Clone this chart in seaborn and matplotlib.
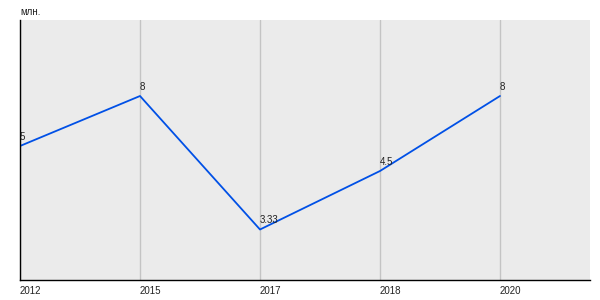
import matplotlib
matplotlib.use("Agg")
import matplotlib.pyplot as plt
import seaborn as sns
import pandas as pd

years = ["2012", "2015", "2017", "2018", "2020"]
values = [5, 6, 3.33, 4.5, 6]
labels = ["5", "8", "3.33", "4.5", "8"]
unit = "млн."

sns.set_theme(style="white")
plt.rcParams['font.family'] = ['Liberation Sans', 'DejaVu Sans']

df = pd.DataFrame({"year": years, "value": values})

fig = plt.figure(figsize=(6, 3), dpi=100)
ax = fig.add_axes([20/600, 20/300, 570/600, 260/300])
ax.set_facecolor("#EBEBEB")

sns.lineplot(data=df, x="year", y="value", ax=ax, color="#0050E6", linewidth=1.3)

ax.set_xlim(0, 4.75)
ax.set_ylim(2.32, 7.52)
ax.set_xlabel("")
ax.set_ylabel("")
ax.set_yticks([])
ax.set_xticks(range(len(years)))
ax.set_xticklabels(years, ha="left", fontsize=7, color="#222222")
ax.tick_params(axis="x", length=0, pad=4)
ax.xaxis.grid(True, color="#C4C4C4", linewidth=1)
ax.set_axisbelow(True)

for s in ["top", "right"]:
    ax.spines[s].set_visible(False)
for s in ["left", "bottom"]:
    ax.spines[s].set_color("black")
    ax.spines[s].set_linewidth(1.0)

for i, (v, lab) in enumerate(zip(values, labels)):
    ax.annotate(lab, (i, v), xytext=(0, 3), textcoords="offset points",
                ha="left", va="bottom", fontsize=7, color="#222222")

fig.text(20/600, 1 - 12/300, unit, ha="left", va="center", fontsize=7, color="#222222")

fig.savefig("out.png", dpi=100)
